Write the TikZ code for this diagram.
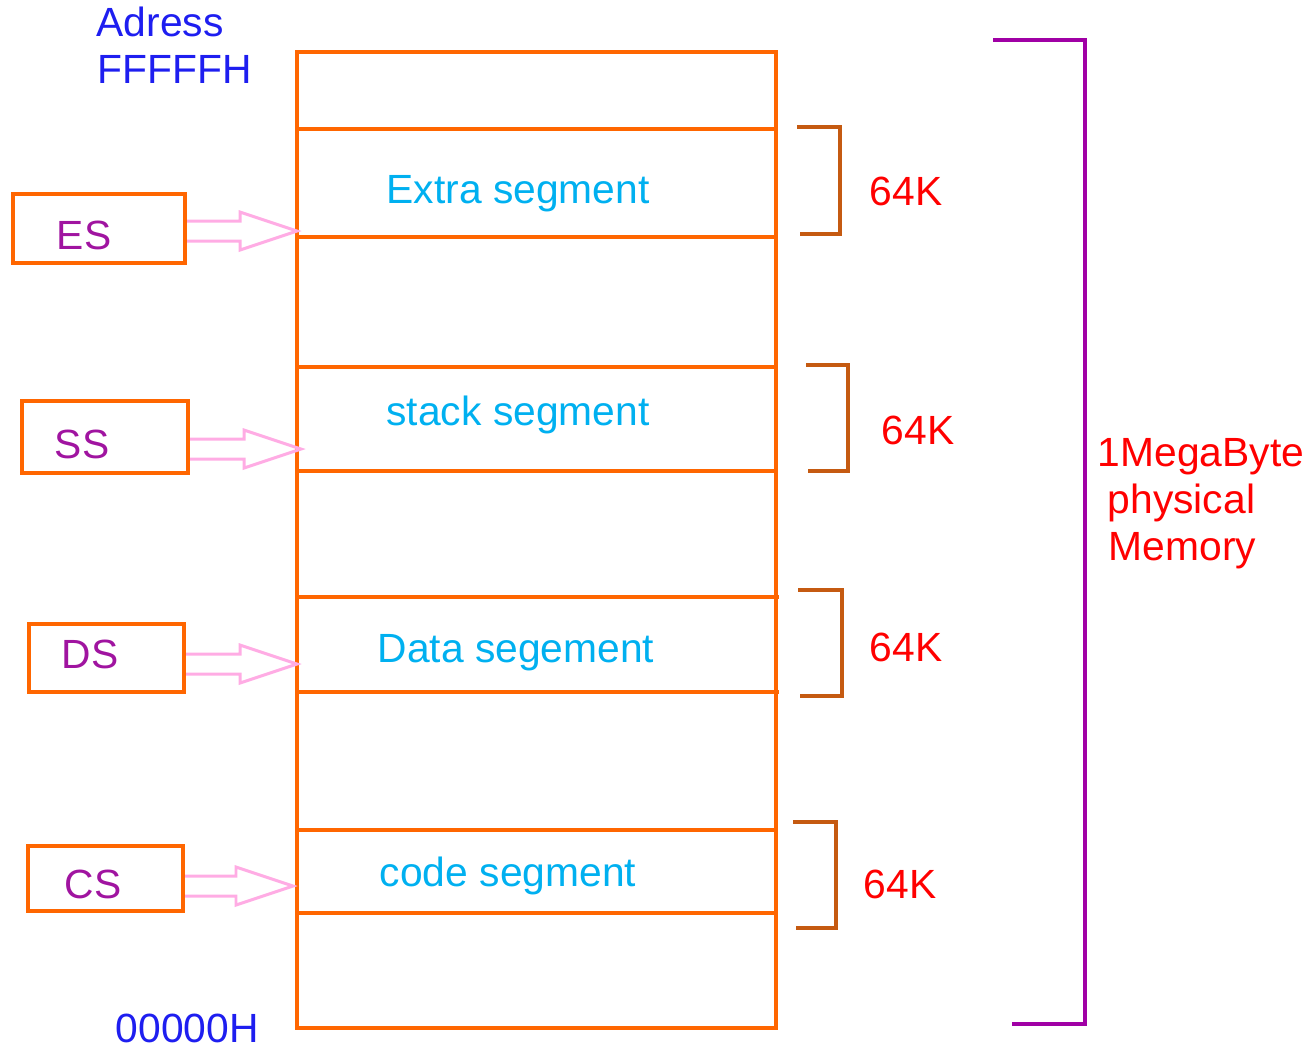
\documentclass[tikz,border=0pt]{standalone}
\usepackage{fontspec}
\setmainfont{Liberation Sans}
\usetikzlibrary{calc}

\definecolor{memorange}{RGB}{255,102,0}
\definecolor{brbrown}{RGB}{197,90,17}
\definecolor{bigpurple}{RGB}{160,0,165}
\definecolor{ptrpink}{RGB}{255,172,228}
\definecolor{segcyan}{RGB}{0,176,240}
\definecolor{regpurple}{RGB}{160,20,160}
\definecolor{adrblue}{RGB}{30,30,240}

\tikzset{
  memline/.style={draw=memorange, line width=1.05pt},
  regbox/.style={inner sep=0pt, outer sep=0pt},
  ptr/.style={draw=ptrpink, line width=0.85pt},
  sizebr/.style={draw=brbrown, line width=1.1pt},
  txt/.style={font=\fontsize{11.6}{14}\selectfont, inner sep=0pt},
}

\newcommand\regptr[2]{%
  \draw[ptr] ($(#1)+(0,-10)$) -- ($(#2)+(-57,-10)$) -- ($(#2)+(-57,-19)$)
    -- (#2) -- ($(#2)+(-57,19)$) -- ($(#2)+(-57,10)$) -- ($(#1)+(0,10)$);}

\begin{document}
\begin{tikzpicture}[x=0.01cm, y=-0.01cm]
\useasboundingbox (0,0) rectangle (1307,1047);

% memory column
\draw[memline] (297,52) rectangle (776,1028);
\draw[memline] (297,129) -- (776,129);
\draw[memline] (297,237) -- (776,237);
\draw[memline] (297,367) -- (776,367);
\draw[memline] (297,471) -- (776,471);
\draw[memline] (297,597) -- (779,597);
\draw[memline] (297,692) -- (779,692);
\draw[memline] (297,830) -- (776,830);
\draw[memline] (297,913) -- (776,913);

\node[txt, text=segcyan, anchor=base] (extra) at (518,203) {Extra segment};
\node[txt, text=segcyan, anchor=base] (stack) at (518,425) {stack segment};
\node[txt, text=segcyan, anchor=base] (data)  at (516,662) {Data segement};
\node[txt, text=segcyan, anchor=base] (code)  at (508,886) {code segment};

\node[txt, text=adrblue, anchor=base west] (adr)  at (96,36) {Adress};
\node[txt, text=adrblue, anchor=base west] (top)  at (97,83) {FFFFFH};
\node[txt, text=adrblue, anchor=base west] (bot)  at (115,1042) {00000H};

% segment registers
\coordinate (esin) at (297,231);
\coordinate (ssin) at (301,449);
\coordinate (dsin) at (297,664);
\coordinate (csin) at (293,886);

\node[regbox, minimum width=172*0.01cm, minimum height=69*0.01cm] (es) at (99,228.5) {};
\node[regbox, minimum width=166*0.01cm, minimum height=72*0.01cm] (ss) at (105,437) {};
\node[regbox, minimum width=155*0.01cm, minimum height=68*0.01cm] (ds) at (106.5,658) {};
\node[regbox, minimum width=155*0.01cm, minimum height=65*0.01cm] (cs) at (105.5,878.5) {};

\regptr{es.east |- esin}{esin}
\regptr{ss.east |- ssin}{ssin}
\regptr{ds.east |- dsin}{dsin}
\regptr{cs.east |- csin}{csin}

\draw[memline] (es.north west) rectangle (es.south east);
\draw[memline] (ss.north west) rectangle (ss.south east);
\draw[memline] (ds.north west) rectangle (ds.south east);
\draw[memline] (cs.north west) rectangle (cs.south east);

\node[txt, text=regpurple, anchor=base] (eslbl) at (84,249) {ES};
\node[txt, text=regpurple, anchor=base] (sslbl) at (82,458) {SS};
\node[txt, text=regpurple, anchor=base] (dslbl) at (90,668) {DS};
\node[txt, text=regpurple, anchor=base] (cslbl) at (93,898) {CS};

% 64K brackets
\draw[sizebr] (797,127) -- (840,127) -- (840,234) -- (800,234);
\draw[sizebr] (806,365) -- (848,365) -- (848,471) -- (808,471);
\draw[sizebr] (798,590) -- (842,590) -- (842,696) -- (800,696);
\draw[sizebr] (793,822) -- (836,822) -- (836,928) -- (796,928);

\node[txt, text=red, anchor=base] (ksize1) at (906,205) {64K};
\node[txt, text=red, anchor=base] (ksize2) at (918,444) {64K};
\node[txt, text=red, anchor=base] (ksize3) at (906,661) {64K};
\node[txt, text=red, anchor=base] (ksize4) at (900,898) {64K};

% whole memory
\draw[draw=bigpurple, line width=1.15pt] (993,40) -- (1085,40) -- (1085,1024) -- (1012,1024);

\node[txt, text=red, anchor=base west] (mb1) at (1097,466) {1MegaByte};
\node[txt, text=red, anchor=base west] (mb2) at (1107,513) {physical};
\node[txt, text=red, anchor=base west] (mb3) at (1108,560) {Memory};

\end{tikzpicture}
\end{document}
